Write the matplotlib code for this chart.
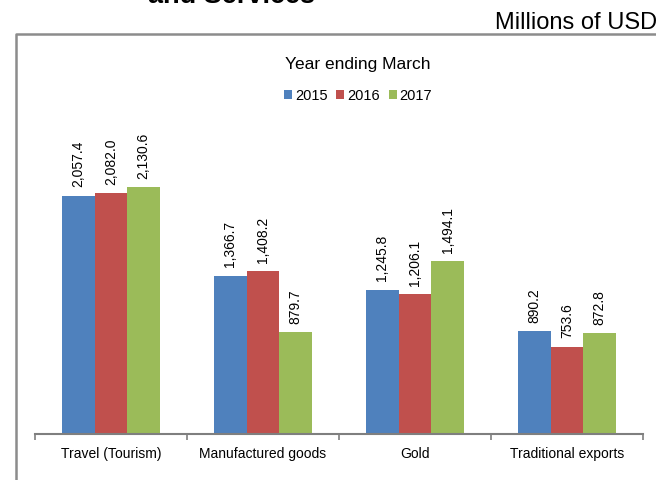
import numpy as np
import matplotlib.pyplot as plt
from matplotlib.lines import Line2D

plt.rcParams['font.family'] = ['Liberation Sans', 'DejaVu Sans']

# data (millions of USD)
categories = ['Travel (Tourism)', 'Manufactured goods', 'Gold', 'Traditional exports']
years = ['2015', '2016', '2017']
v2015 = [2057.4, 1366.7, 1245.8, 890.2]
v2016 = [2082.0, 1408.2, 1206.1, 753.6]
v2017 = [2130.6, 879.7, 1494.1, 872.8]
colors = ['#4F81BD', '#C0504D', '#9BBB59']

fig = plt.figure(figsize=(6.56, 4.8), dpi=100)
ax = fig.add_axes([0.0534, 0.0958, 0.9268, 0.7238])

x = np.arange(len(categories))
w = 0.215
for i, (vals, yr, c) in enumerate(zip([v2015, v2016, v2017], years, colors)):
    bars = ax.bar(x + (i - 1) * w, vals, w, color=c, label=yr)
    for b, v in zip(bars, vals):
        ax.annotate(f'{v:,.1f}', (b.get_x() + b.get_width() / 2, v),
                    xytext=(0, 6), textcoords='offset points',
                    rotation=90, ha='center', va='bottom', fontsize=10)

ax.set_xlim(-0.5, 3.5)
ax.set_ylim(0, 3000)
for s in ['top', 'right', 'left']:
    ax.spines[s].set_visible(False)
ax.spines['bottom'].set_color('#7f7f7f')
ax.spines['bottom'].set_linewidth(1.5)
ax.set_yticks([])
ax.set_xticks(x)
ax.set_xticklabels(categories, fontsize=10)
ax.tick_params(axis='x', which='major', length=0, pad=9)
ax.set_xticks(np.arange(-0.5, 4, 1), minor=True)
ax.tick_params(axis='x', which='minor', length=4, width=1.2, color='#7f7f7f')

leg = fig.legend(loc='center', bbox_to_anchor=(358 / 656, 1 - 80 / 480), ncol=3,
                 frameon=False, title='Year ending March', title_fontsize=12.5,
                 fontsize=10.5, handlelength=0.55, handleheight=0.55,
                 handletextpad=0.2, columnspacing=0.6, borderpad=0,
                 labelspacing=1.1)

# chart box (cut off at right and bottom)
fig.add_artist(Line2D([16 / 656, 16 / 656, 1.0], [0.0, 1 - 34 / 480, 1 - 34 / 480],
                      transform=fig.transFigure, color='#8c8c8c', lw=1.8))

fig.text(495 / 656, 1 - 29 / 480, 'Millions of USD', fontsize=17, ha='left', va='baseline')
fig.text(148 / 656, 1 - 3 / 480, 'and Services', fontsize=19.5, fontweight='bold',
         ha='left', va='baseline')

fig.savefig('out.png', dpi=100)
